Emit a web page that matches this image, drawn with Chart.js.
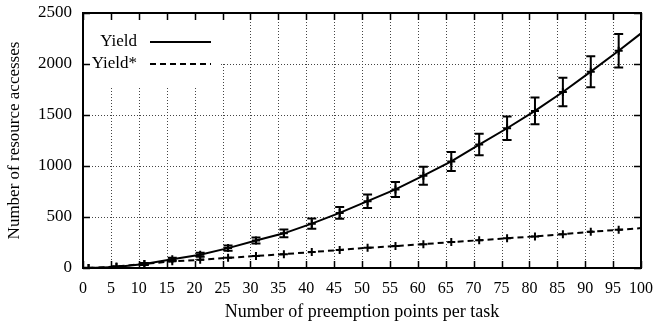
<!DOCTYPE html>
<html>
<head>
<meta charset="utf-8">
<script src="https://cdn.jsdelivr.net/npm/chart.js@4"></script>
<style>
  html, body { margin: 0; padding: 0; background: #fff; }
  #wrap { width: 654px; height: 327px; }
</style>
</head>
<body>
<div id="wrap"><canvas id="chart" width="654" height="327"></canvas></div>
<script>
// data
const points = [1, 6, 11, 16, 21, 26, 31, 36, 41, 46, 51, 56, 61, 66, 71, 76, 81, 86, 91, 96, 100];
const yieldVals = [0, 10, 40, 85, 130, 195, 270, 340, 435, 540, 655, 770, 905, 1045, 1210, 1370, 1540, 1725, 1925, 2130, 2300];
const yieldErr = [2, 5, 10, 15, 20, 25, 30, 38, 50, 57, 66, 74, 88, 93, 105, 115, 131, 139, 152, 165, null];
const yieldStarVals = [0, 15, 40, 65, 80, 100, 118, 136, 156, 177, 198, 215, 234, 254, 272, 292, 310, 332, 355, 375, 391];
const seriesNames = ['Yield', 'Yield*'];

const FONT = '"Liberation Serif", "DejaVu Serif", serif';
const lastNoMark = points.map((p, i) => i === points.length - 1 ? 0 : 4);

// gnuplot look: dotted grid, framed box, inward ticks, key top-left
const gnuplotFrame = {
  id: 'gnuplotFrame',
  beforeDatasetsDraw(chart) {
    const { ctx, chartArea: a, scales: { x, y } } = chart;
    ctx.save();
    ctx.strokeStyle = '#444';
    ctx.lineWidth = 1;
    ctx.setLineDash([1, 2]);
    for (let v = 5; v < 100; v += 5) {
      const px = Math.round(x.getPixelForValue(v)) + 0.5;
      ctx.beginPath(); ctx.moveTo(px, a.top); ctx.lineTo(px, a.bottom); ctx.stroke();
    }
    for (let v = 500; v < 2500; v += 500) {
      const py = Math.round(y.getPixelForValue(v)) + 0.5;
      ctx.beginPath(); ctx.moveTo(a.left, py); ctx.lineTo(a.right, py); ctx.stroke();
    }
    ctx.setLineDash([]);
    // key area is blank
    ctx.fillStyle = '#fff';
    ctx.fillRect(a.left + 1, a.top + 1, 140, 48);
    ctx.fillRect(a.left + 1, a.top + 1, 137, 73);

    ctx.strokeStyle = '#000';
    ctx.lineWidth = 2;
    ctx.strokeRect(a.left, a.top, a.right - a.left, a.bottom - a.top);
    ctx.lineWidth = 1.5;
    const t = 7;
    for (let v = 0; v <= 100; v += 5) {
      const px = Math.round(x.getPixelForValue(v)) + 0.5;
      ctx.beginPath();
      ctx.moveTo(px, a.bottom); ctx.lineTo(px, a.bottom - t);
      ctx.moveTo(px, a.top); ctx.lineTo(px, a.top + t);
      ctx.stroke();
    }
    for (let v = 0; v <= 2500; v += 500) {
      const py = Math.round(y.getPixelForValue(v)) + 0.5;
      ctx.beginPath();
      ctx.moveTo(a.left, py); ctx.lineTo(a.left + t, py);
      ctx.moveTo(a.right, py); ctx.lineTo(a.right - t, py);
      ctx.stroke();
    }
    ctx.restore();
  },
  afterDatasetsDraw(chart) {
    const { ctx, chartArea: a, scales: { x, y } } = chart;
    ctx.save();
    // error bars on Yield
    ctx.strokeStyle = '#000';
    ctx.lineWidth = 2;
    points.forEach((p, i) => {
      const e = yieldErr[i];
      if (e == null) return;
      const px = x.getPixelForValue(p);
      const top = y.getPixelForValue(yieldVals[i] + e);
      const bot = y.getPixelForValue(Math.max(0, yieldVals[i] - e));
      ctx.beginPath();
      ctx.moveTo(px, top); ctx.lineTo(px, bot);
      ctx.moveTo(px - 4.5, top); ctx.lineTo(px + 4.5, top);
      ctx.moveTo(px - 4.5, bot); ctx.lineTo(px + 4.5, bot);
      ctx.stroke();
    });
    // key
    ctx.font = '17px ' + FONT;
    ctx.fillStyle = '#000';
    ctx.textAlign = 'right';
    ctx.textBaseline = 'middle';
    const rows = [a.top + 29, a.top + 51];
    seriesNames.forEach((name, i) => {
      ctx.fillText(name, a.left + 54, rows[i]);
      ctx.lineWidth = 2;
      ctx.setLineDash(i === 0 ? [] : [6, 4]);
      ctx.beginPath();
      ctx.moveTo(a.left + 67, rows[i]); ctx.lineTo(a.left + 128, rows[i]);
      ctx.stroke();
    });
    ctx.restore();
  }
};

new Chart(document.getElementById('chart'), {
  type: 'line',
  data: {
    datasets: [
      {
        label: seriesNames[0],
        data: points.map((p, i) => ({ x: p, y: yieldVals[i] })),
        borderColor: '#000', backgroundColor: '#000',
        borderWidth: 2, tension: 0,
        pointStyle: 'cross', pointRadius: lastNoMark, pointBorderWidth: 2
      },
      {
        label: seriesNames[1],
        data: points.map((p, i) => ({ x: p, y: yieldStarVals[i] })),
        borderColor: '#000', backgroundColor: '#000',
        borderWidth: 2, borderDash: [6, 4], tension: 0,
        pointStyle: 'cross', pointRadius: lastNoMark, pointBorderWidth: 2
      }
    ]
  },
  options: {
    responsive: false, animation: false,
    layout: { padding: { top: 13, right: 13, left: 0, bottom: 0 } },
    plugins: { legend: { display: false }, tooltip: { enabled: false } },
    scales: {
      x: {
        type: 'linear', min: 0, max: 100,
        grid: { display: false, drawTicks: false }, border: { display: false },
        ticks: { stepSize: 5, padding: 11, color: '#000', maxRotation: 0, autoSkip: false,
                 font: { family: FONT, size: 16 } },
        title: { display: true, text: 'Number of preemption points per task', color: '#000',
                 padding: { top: 0, bottom: 4 }, font: { family: FONT, size: 18 } },
        afterFit(s) { s.height = 59; s.paddingLeft = 0; s.paddingRight = 0; }
      },
      y: {
        min: 0, max: 2500,
        grid: { display: false, drawTicks: false }, border: { display: false },
        ticks: { stepSize: 500, padding: 11, color: '#000', font: { family: FONT, size: 17 },
                 callback: v => String(v) },
        title: { display: true, text: 'Number of resource accesses', color: '#000',
                 padding: { top: 4, bottom: 0 }, font: { family: FONT, size: 17 } },
        afterFit(s) { s.width = 83; s.paddingTop = 0; s.paddingBottom = 0; }
      }
    }
  },
  plugins: [gnuplotFrame]
});
</script>
</body>
</html>
